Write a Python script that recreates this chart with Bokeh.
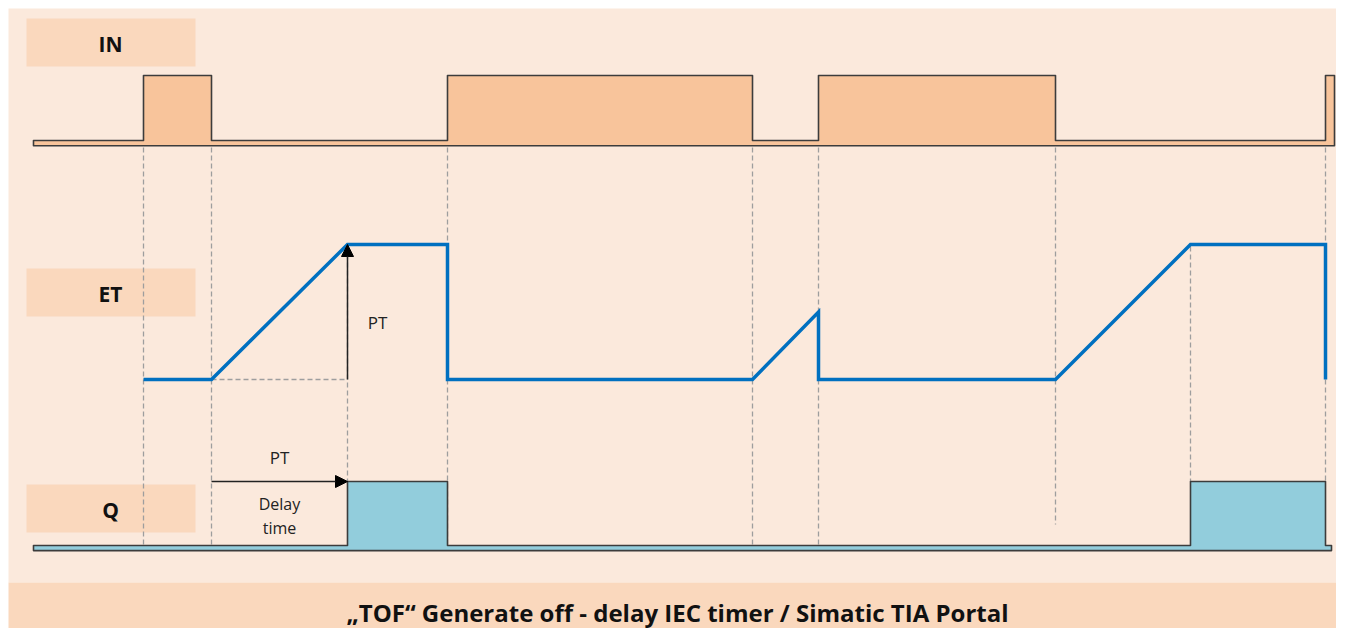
from bokeh.plotting import figure
from bokeh.models import Range1d, Arrow, NormalHead
from bokeh.core.properties import value
from bokeh.embed import file_html
from bokeh.resources import INLINE

# ---------------- data (time axis in diagram units) ----------------
signal_labels = ["IN", "ET", "Q"]
t_start = 33
in_rise = [143, 447, 818, 1325]
in_fall = [211, 752, 1055, 1334]
et_t = [143, 211, 347, 447, 447, 752, 818, 818, 1055, 1190, 1325, 1325]
et_v = [0, 0, 1, 1, 0, 0, 0.5, 0, 0, 1, 1, 0]
q_rise = [347, 1190]
q_fall = [447, 1325]
q_end = 1331
pt_start = 211
pt_end = 347
guide_t = [143, 211, 347, 447, 752, 818, 1055, 1190, 1325]
guide_top = ["in", "in", "et", "in", "in", "in", "in", "et", "in"]
guide_bot = ["q0", "q0", "q1", "q0", "q0", "q0", "q_mid", "q1", "q1"]
title_text = "\u201eTOF\u201c Generate off - delay IEC timer / Simatic TIA Portal"

# ---------------- layout ----------------
W, H = 1336, 628
PANEL_BG = "#FBE9DC"
BOX_BG = "#FAD8BD"
IN_FILL = "#F8C49B"
Q_FILL = "#92CDDC"
ET_COL = "#0070C0"
EDGE = "#3C3C3C"
GUIDE = "#9E9E9E"
FONT = "Open Sans"

p = figure(width=W, height=H, output_backend="svg", toolbar_location=None,
           x_range=Range1d(0, W), y_range=Range1d(H, 0),
           min_border=0, outline_line_color=None,
           background_fill_color="white", border_fill_color="white")
p.axis.visible = False
p.grid.visible = False

# track scales: value v -> page y = base - amp*v
tracks = {"in": (140, 65), "et": (379, 135), "q": (545, 64)}
for name, (base, amp) in tracks.items():
    p.extra_y_ranges[name] = Range1d((base - H) / amp, base / amp)

# background panel and footer
p.quad(left=[8], right=[W], top=[8], bottom=[582], fill_color=PANEL_BG, line_color=None)
p.quad(left=[8], right=[W], top=[582], bottom=[H], fill_color=BOX_BG, line_color=None)

# label boxes
box_tops = [18, 268, 484]
p.quad(left=[26] * 3, right=[195] * 3, top=box_tops, bottom=[b + 48 for b in box_tops],
       fill_color=BOX_BG, line_color=None)
p.text(x=[110] * 3, y=[b + 25 for b in box_tops], text=signal_labels,
       text_font=value(FONT), text_font_style="bold", text_font_size="21px",
       text_align="center", text_baseline="middle", text_color="#111111")

# dashed guides
tops = {"in": 147, "et": 246}
bots = {"q0": 545, "q1": 481, "q_mid": 524}
p.segment(x0=guide_t, x1=guide_t, y0=[tops[g] for g in guide_top], y1=[bots[g] for g in guide_bot],
          line_color=GUIDE, line_width=1.3, line_dash="5 3")
p.segment(x0=[pt_start], x1=[pt_end], y0=[0], y1=[0], y_range_name="et",
          line_color=GUIDE, line_width=1.3, line_dash="5 3")

# IN signal (filled band + pulses)
band = -0.08
xs, ys = [t_start], [0]
for r, f in zip(in_rise, in_fall):
    xs += [r, r, f, f]
    ys += [0, 1, 1, 0]
ys[-1] = band
xs += [t_start]
ys += [band]
p.patch(xs, ys, y_range_name="in", fill_color=IN_FILL, line_color=EDGE,
        line_width=1.6, line_join="round")

# Q signal
qband = -0.08
xs, ys = [t_start], [0]
for r, f in zip(q_rise, q_fall):
    xs += [r, r, f, f]
    ys += [0, 1, 1, 0]
xs += [q_end, q_end, t_start]
ys += [0, qband, qband]
p.patch(xs, ys, y_range_name="q", fill_color=Q_FILL, line_color=EDGE,
        line_width=1.6, line_join="round")

# ET signal
p.line(et_t, et_v, y_range_name="et", line_color=ET_COL, line_width=3.5, line_join="miter")

# PT arrows
p.add_layout(Arrow(end=NormalHead(size=12, fill_color="black", line_color="black"),
                   x_start=pt_end, y_start=0, x_end=pt_end, y_end=1, y_range_name="et",
                   line_color="#222222", line_width=1.5))
p.add_layout(Arrow(end=NormalHead(size=12, fill_color="black", line_color="black"),
                   x_start=pt_start, y_start=1, x_end=pt_end, y_end=1, y_range_name="q",
                   line_color="#222222", line_width=1.5))

# annotation texts
p.text(x=[377], y=[0.42], text=["PT"], y_range_name="et", text_font=value(FONT),
       text_font_size="17px", text_align="center", text_baseline="middle", text_color="#222222")
p.text(x=[(pt_start + pt_end) / 2], y=[1.37], text=["PT"], y_range_name="q", text_font=value(FONT),
       text_font_size="17px", text_align="center", text_baseline="middle", text_color="#222222")
p.text(x=[(pt_start + pt_end) / 2] * 2, y=[0.65, 0.27], text=["Delay", "time"], y_range_name="q",
       text_font=value(FONT), text_font_size="16px", text_align="center",
       text_baseline="middle", text_color="#222222")

# footer title
p.text(x=[677], y=[612], text=[title_text], text_font=value(FONT), text_font_style="bold",
       text_font_size="24px", text_align="center", text_baseline="middle", text_color="#111111")

open("out.html", "w").write(file_html(p, INLINE))
